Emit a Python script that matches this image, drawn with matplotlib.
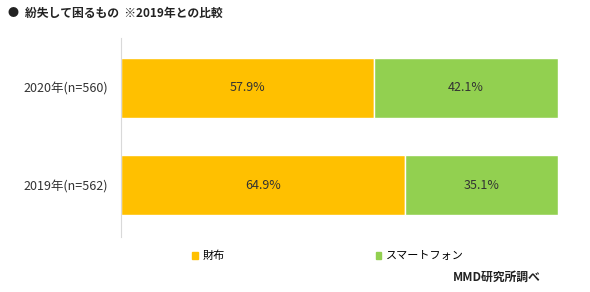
import matplotlib
matplotlib.use("Agg")
import matplotlib.pyplot as plt
from matplotlib.patches import Patch

plt.rcParams['font.family'] = ['Noto Sans CJK JP', 'DejaVu Sans']

# data
categories = ['2019年(n=562)', '2020年(n=560)']
wallet = [64.9, 57.9]
phone = [35.1, 42.1]
series_names = ['財布', 'スマートフォン']
colors = ['#FFC000', '#92D050']

fig = plt.figure(figsize=(5.9, 2.92), dpi=100)
ax = fig.add_axes([0.205, 0.188, 0.741, 0.682])

y = range(len(categories))
b1 = ax.barh(y, wallet, height=0.615, color=colors[0], edgecolor='white', linewidth=1)
b2 = ax.barh(y, phone, left=wallet, height=0.615, color=colors[1], edgecolor='white', linewidth=1)

for bars in (b1, b2):
    ax.bar_label(bars, labels=['%.1f%%' % b.get_width() for b in bars],
                 label_type='center', fontsize=9, color='#333333')

ax.set_xlim(0, 100)
ax.set_ylim(-0.53, 1.51)
ax.set_yticks(list(y))
ax.set_yticklabels(categories, fontsize=9, color='#333333')
ax.tick_params(axis='y', length=0, pad=9)
ax.set_xticks([])
for s in ['top', 'right', 'bottom']:
    ax.spines[s].set_visible(False)
ax.spines['left'].set_color('#D9D9D9')

handles = [Patch(color=c, label=n) for c, n in zip(colors, series_names)]
fig.legend(handles=handles, loc='center left', bbox_to_anchor=(0.309, 0.123),
           ncol=2, frameon=False, fontsize=8, handlelength=0.5, handleheight=0.5,
           handletextpad=0.4, columnspacing=13.6)

fig.text(0.012, 0.955, '●', fontsize=8, va='center', color='#222222')
fig.text(0.042, 0.955, '紛失して困るもの  ※2019年との比較', fontsize=8.5,
         fontweight='bold', va='center', color='#222222')
fig.text(0.917, 0.05, 'MMD研究所調べ', fontsize=8.5, fontweight='bold',
         ha='right', va='center', color='#222222')

fig.savefig('out.png', dpi=100)
